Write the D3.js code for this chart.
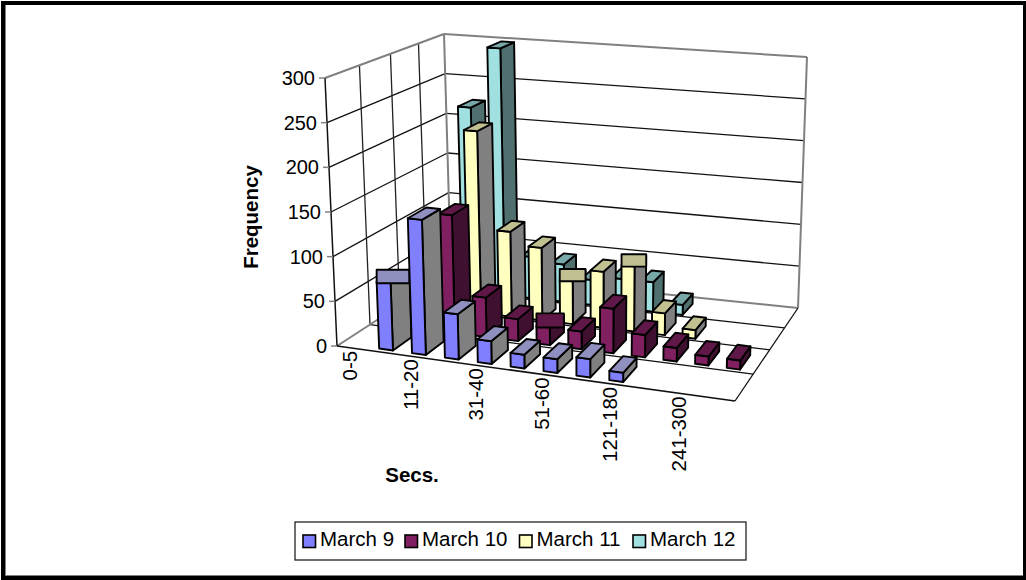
<!DOCTYPE html>
<html>
<head>
<meta charset="utf-8">
<title>Call durations by day</title>
<script src="https://cdnjs.cloudflare.com/ajax/libs/d3/7.8.5/d3.min.js"></script>
<style>
html, body { margin: 0; padding: 0; background: #fff; }
svg { display: block; font-family: "Liberation Sans", Arial, sans-serif; }
</style>
</head>
<body>
<svg id="chart" width="1026" height="580"></svg>
<script>
const categories = ["0-5", "6-10", "11-20", "21-30", "31-40", "41-50", "51-60", "61-120", "121-180", "181-240", "241-300", ">300"];
const shownCategories = ["0-5", "11-20", "31-40", "51-60", "121-180", "241-300"];
const seriesNames = ["March 9", "March 10", "March 11", "March 12"];

const march9  = [0, 75, 150, 50, 25, 15, 15, 20, 10, 0, 0, 0];
const march10 = [0, 0, 135, 45, 25, 20, 20, 50, 25, 15, 10, 10];
const march11 = [0, 0, 215, 100, 85, 50, 65, 75, 25, 10, 0, 0];
const march12 = [0, 225, 300, 50, 45, 30, 35, 35, 12, 0, 0, 0];
const seriesValues = [march9, march10, march11, march12];

const frontColors = ["#8080ff", "#802060", "#ffffc0", "#a0e0e0"];
const sideColors  = ["#808080", "#401030", "#808080", "#507070"];
const topColors   = ["#9090c0", "#601848", "#c0c090", "#78a8a8"];

// Bars whose top face renders as a flat box: [series, category]
const flatTops = [[0, 1], [1, 5], [2, 5], [2, 7]];

const W = 1026, H = 580;
const svg = d3.select("#chart");

// Page frame
svg.append("rect").attr("width", W).attr("height", H).attr("fill", "#fff");
svg.append("rect").attr("x", 1).attr("y", 1).attr("width", W - 1).attr("height", H - 1).attr("fill", "#000");
svg.append("rect").attr("x", 5).attr("y", 5).attr("width", 1018).attr("height", 571).attr("fill", "#808080");
svg.append("rect").attr("x", 6).attr("y", 5).attr("width", 1017).attr("height", 570).attr("fill", "#fff");

// Box corners: front-left, front-right, back-right, back-left
const floorQuad = [[337, 346], [735, 401], [798, 308], [451, 272]];
const ceilingQuad = [[325, 78], [742, 118], [807, 57], [444, 34]];
const depthBulge = 0.222;

// Corner interpolation of the box; depth is foreshortened towards the back wall
function project(u, v, w) {
  const d = v * (1 + depthBulge) / (1 + depthBulge * v);
  const onQuad = q => [0, 1].map(i =>
    (1 - d) * ((1 - u) * q[0][i] + u * q[1][i]) + d * ((1 - u) * q[3][i] + u * q[2][i]));
  const a = onQuad(floorQuad), b = onQuad(ceilingQuad);
  return [a[0] + (b[0] - a[0]) * w, a[1] + (b[1] - a[1]) * w];
}

const uScale = d3.scaleBand().domain(categories).range([-0.011, 0.985]).paddingInner(0.58).paddingOuter(0.29);
const vScale = d3.scaleBand().domain(seriesNames).range([0, 0.945]).paddingInner(0.4).paddingOuter(0.12);
const wScale = d3.scaleLinear().domain([0, 300]).range([0, 1]);
const yTicks = wScale.ticks(6);

// Category labels spread slightly wider towards the right of the axis
const labelIndex = d3.scalePoint().domain(shownCategories).range([0, 1]);
const labelU = d3.scalePow().exponent(1.05).domain([0, 1]).range([0.033, 0.859]);

const path = pts => "M" + pts.map(p => p.join(",")).join("L") + "Z";
const seg = (g, a, b, color, width) => g.append("line")
  .attr("x1", a[0]).attr("y1", a[1]).attr("x2", b[0]).attr("y2", b[1])
  .attr("stroke", color).attr("stroke-width", width);

// Walls and gridlines
const walls = svg.append("g");
yTicks.filter(t => t > 0 && t < 300).forEach(t => {
  const w = wScale(t);
  seg(walls, project(0, 0, w), project(0, 1, w), "#111", 1.3);
  seg(walls, project(0, 1, w), project(1, 1, w), "#111", 1.3);
});
[1, 2, 3].forEach(i => {
  const v = i / 4;
  seg(walls, project(0, v, 0), project(0, v, 1), "#222", 1.3);
  seg(walls, project(0, v, 0), project(1, v, 0), "#111", 1.3);
});
const gray = "#808080";
seg(walls, project(0, 0, 1), project(0, 1, 1), gray, 2);
seg(walls, project(0, 1, 1), project(1, 1, 1), gray, 2);
seg(walls, project(0, 1, 1), project(0, 1, 0), gray, 2);
seg(walls, project(1, 1, 1), project(1, 1, 0), gray, 2);
seg(walls, project(0, 0, 0), project(0, 1, 0), gray, 2);
seg(walls, project(0, 1, 0), project(1, 1, 0), gray, 2);
seg(walls, project(0, 0, 0), project(0, 0, 1), "#111", 1.5);
seg(walls, project(0, 0, 0), project(1, 0, 0), "#111", 1.5);
seg(walls, project(1, 0, 0), project(1, 1, 0), "#111", 1.3);

// Value axis ticks and labels
const yAxis = svg.append("g");
yTicks.forEach(t => {
  const p = project(0, 0, wScale(t));
  seg(yAxis, [p[0] - 6, p[1]], p, gray, 1.5);
  yAxis.append("text").attr("x", p[0] - 10).attr("y", p[1] + 7)
    .attr("text-anchor", "end").attr("font-size", 20).attr("fill", "#000").text(t);
});

// Category labels, turned to read upwards and hung under the front axis
const xAxis = svg.append("g");
shownCategories.forEach(name => {
  const p = project(labelU(labelIndex(name)), 0, 0);
  xAxis.append("text")
    .attr("transform", `translate(${p[0] + 7},${p[1] + 3}) rotate(-90)`)
    .attr("text-anchor", "end").attr("font-size", 20.5).attr("fill", "#000").text(name);
});

// Bars, painted from the back row forward and left to right
const barsLayer = svg.append("g").attr("stroke", "#000").attr("stroke-width", 1.9).attr("stroke-linejoin", "round");
d3.range(seriesNames.length - 1, -1, -1).forEach(si => {
  const name = seriesNames[si];
  categories.forEach((cat, ci) => {
    const value = seriesValues[si][ci];
    if (!value) return;
    const u0 = uScale(cat), u1 = u0 + uScale.bandwidth();
    const v0 = vScale(name), v1 = v0 + vScale.bandwidth();
    const w = wScale(value);
    const g = barsLayer.append("g");
    const topFace = [project(u0, v0, w), project(u1, v0, w), project(u1, v1, w), project(u0, v1, w)];
    g.append("path").attr("fill", sideColors[si])
      .attr("d", path([project(u1, v0, 0), project(u1, v1, 0), project(u1, v1, w), project(u1, v0, w)]));
    g.append("path").attr("fill", frontColors[si])
      .attr("d", path([project(u0, v0, 0), project(u1, v0, 0), project(u1, v0, w), project(u0, v0, w)]));
    const flat = flatTops.some(([s, c]) => s === si && c === ci);
    if (flat) {
      const [xa, xb] = d3.extent(topFace, p => p[0]);
      const [ya, yb] = d3.extent(topFace, p => p[1]);
      g.append("rect").attr("x", xa).attr("y", ya).attr("width", xb - xa).attr("height", yb - ya)
        .attr("fill", topColors[si]);
    } else {
      g.append("path").attr("fill", topColors[si]).attr("d", path(topFace));
    }
  });
});

// Axis titles
svg.append("text").attr("transform", "translate(258,217) rotate(-90)").attr("text-anchor", "middle")
  .attr("font-size", 20.5).attr("font-weight", "bold").attr("fill", "#000").text("Frequency");
svg.append("text").attr("x", 412).attr("y", 482).attr("text-anchor", "middle")
  .attr("font-size", 20.5).attr("font-weight", "bold").attr("fill", "#000").text("Secs.");

// Legend
const legend = svg.append("g");
legend.append("rect").attr("x", 295).attr("y", 522).attr("width", 451).attr("height", 38)
  .attr("fill", "#fff").attr("stroke", "#222").attr("stroke-width", 1.3);
const legendX = [303, 405, 519.5, 633];
seriesNames.forEach((name, i) => {
  legend.append("rect").attr("x", legendX[i]).attr("y", 535).attr("width", 12.5).attr("height", 12.5)
    .attr("fill", frontColors[i]).attr("stroke", "#000").attr("stroke-width", 1.6);
  legend.append("text").attr("x", legendX[i] + 17).attr("y", 546).attr("font-size", 20.5)
    .attr("fill", "#000").text(name);
});
</script>
</body>
</html>
